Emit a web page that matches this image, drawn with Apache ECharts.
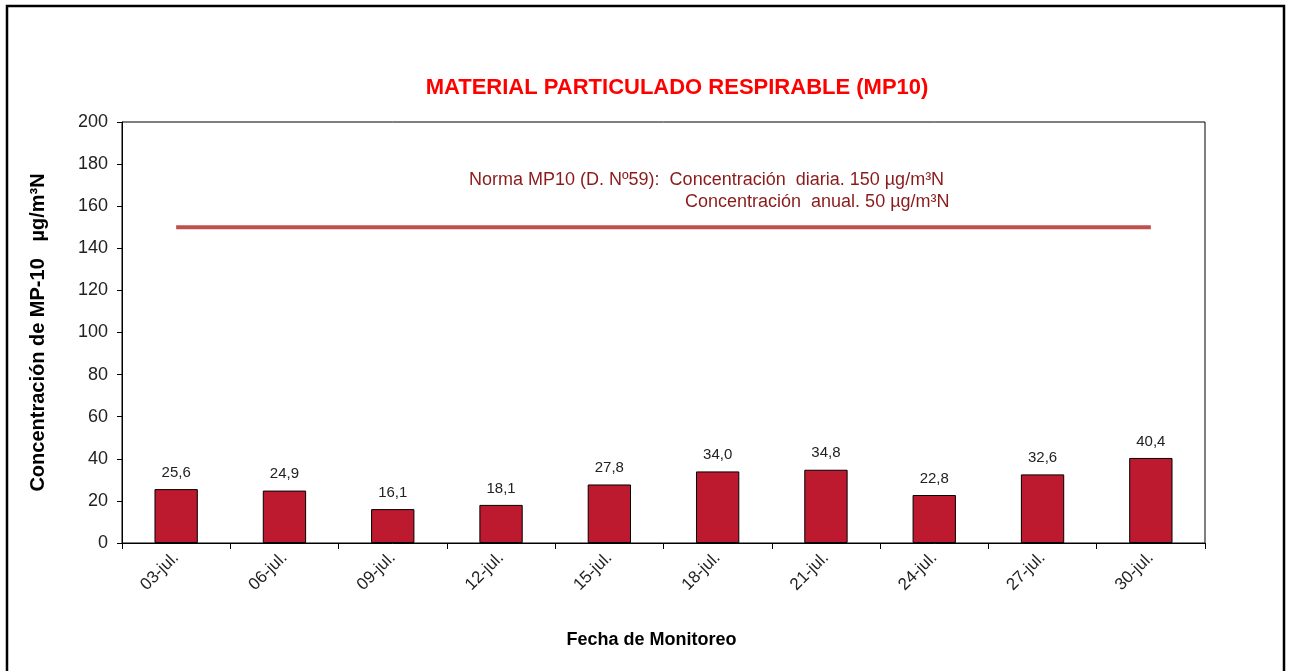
<!DOCTYPE html>
<html>
<head>
<meta charset="utf-8">
<script src="https://cdn.jsdelivr.net/npm/echarts@6/dist/echarts.min.js"></script>
<style>
  html, body { margin: 0; padding: 0; background: #fff; }
  #chart { width: 1291px; height: 671px; }
</style>
</head>
<body>
<div id="chart"></div>
<script>
var fechas = ['03-jul.', '06-jul.', '09-jul.', '12-jul.', '15-jul.', '18-jul.', '21-jul.', '24-jul.', '27-jul.', '30-jul.'];
var mp10 = [25.6, 24.9, 16.1, 18.1, 27.8, 34.0, 34.8, 22.8, 32.6, 40.4];
var norma = [150, 150, 150, 150, 150, 150, 150, 150, 150, 150];

var chart = echarts.init(document.getElementById('chart'));
var option = {
    animation: false,
    title: {
        text: 'MATERIAL PARTICULADO RESPIRABLE (MP10)',
        left: 672,
        textAlign: 'center',
        top: 72,
        textStyle: {
            color: '#ff0000',
            fontFamily: 'Liberation Sans',
            fontWeight: 'bold',
            fontSize: 22
        }
    },
    graphic: [
        {
            type: 'rect',
            shape: { x: 7, y: 6, width: 1277, height: 720 },
            style: { fill: 'none', stroke: '#000', lineWidth: 2.5 },
            silent: true
        },
        {
            type: 'text',
            left: 469,
            top: 171,
            style: {
                text: 'Norma MP10 (D. Nº59):  Concentración  diaria. 150 µg/m³N',
                fill: '#8b1a1a',
                font: '18px "Liberation Sans"'
            }
        },
        {
            type: 'text',
            left: 685,
            top: 193,
            style: {
                text: 'Concentración  anual. 50 µg/m³N',
                fill: '#8b1a1a',
                font: '18px "Liberation Sans"'
            }
        }
    ],
    grid: {
        left: 122,
        right: 86,
        top: 122,
        bottom: 128,
        show: true,
        borderColor: '#000',
        borderWidth: 1
    },
    xAxis: {
        type: 'category',
        data: fechas,
        name: 'Fecha de Monitoreo',
        nameLocation: 'middle',
        nameGap: 88,
        nameTextStyle: {
            color: '#000',
            fontFamily: 'Liberation Sans',
            fontWeight: 'bold',
            fontSize: 18,
            padding: [0, 24, 0, 0]
        },
        axisLine: { lineStyle: { color: '#000', width: 1 } },
        axisTick: { show: true, length: 6, lineStyle: { color: '#000' } },
        axisLabel: {
            rotate: 45,
            margin: 12,
            color: '#222',
            fontFamily: 'Liberation Sans',
            fontSize: 17
        }
    },
    yAxis: {
        type: 'value',
        min: 0,
        max: 200,
        interval: 20,
        name: 'Concentración de MP-10   µg/m³N',
        nameLocation: 'middle',
        nameGap: 74,
        nameTextStyle: {
            color: '#000',
            fontFamily: 'Liberation Sans',
            fontWeight: 'bold',
            fontSize: 20
        },
        axisLine: { show: true, lineStyle: { color: '#000', width: 1 } },
        axisTick: { show: true, length: 5, lineStyle: { color: '#000' } },
        splitLine: { show: false },
        axisLabel: {
            margin: 14,
            color: '#222',
            fontFamily: 'Liberation Sans',
            fontSize: 18
        }
    },
    series: [
        {
            name: 'MP10',
            type: 'bar',
            data: mp10,
            barWidth: '40%',
            itemStyle: {
                color: '#be1a2f',
                borderColor: '#000',
                borderWidth: 1
            },
            label: {
                show: true,
                position: 'top',
                distance: 9,
                color: '#222',
                fontFamily: 'Liberation Sans',
                fontSize: 15,
                formatter: function (p) {
                    return p.value.toFixed(1).replace('.', ',');
                }
            }
        },
        {
            name: 'Norma',
            type: 'line',
            data: norma,
            symbol: 'none',
            lineStyle: { color: '#c0504d', width: 4 }
        }
    ]
};
chart.setOption(option);
</script>
</body>
</html>
